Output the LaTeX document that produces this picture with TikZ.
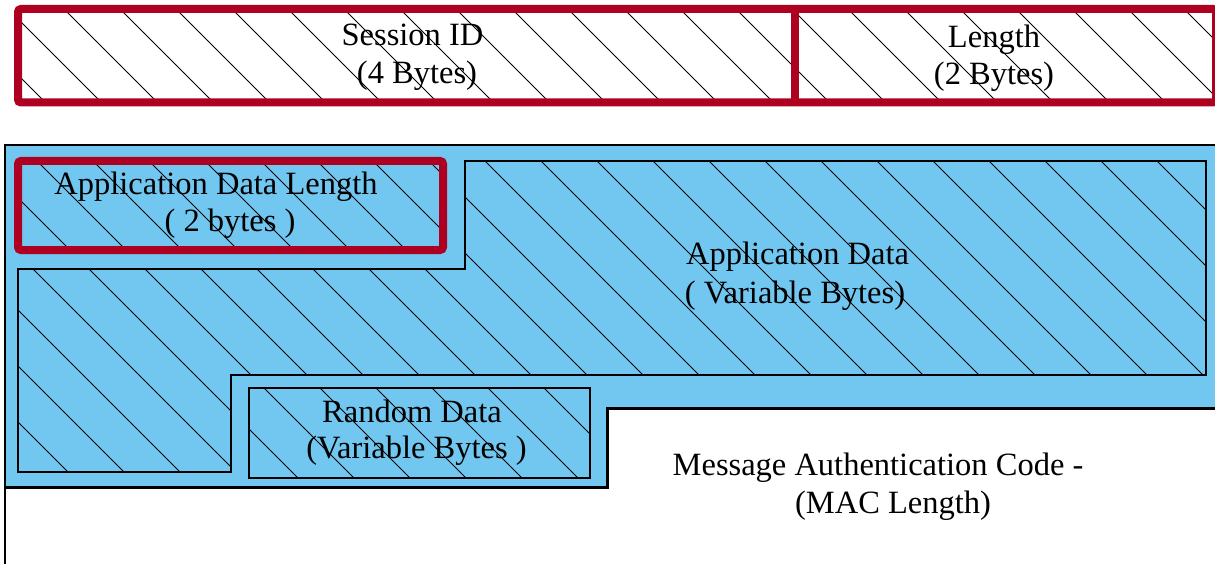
\documentclass[tikz,border=0pt]{standalone}
\usepackage{fontspec}
\setmainfont{Liberation Serif}
\definecolor{fieldred}{RGB}{174,0,33}
\definecolor{payloadblue}{RGB}{113,199,240}
\tikzset{
  redframe/.style={draw=fieldred, line width=8pt, rounded corners=3pt},
  thinframe/.style={draw=black, line width=1.6pt},
  hatchline/.style={draw=black, line width=1pt},
  txt/.style={font=\fontsize{32.5}{38}\selectfont, inner sep=0pt, anchor=base, text=black},
}
% diagonal hatching: lines x - y = phase + 56k (coordinates in pixels, y pointing down)
\newcommand{\hatchlines}[1]{%
  \foreach \k in {-11,...,23}{\draw[hatchline] ({#1+56*\k-20},-20) -- ({#1+56*\k+620},620);}}
\begin{document}
\begin{tikzpicture}[x=1pt,y=-1pt]
\useasboundingbox (0,0) rectangle (1215,564);
\begin{scope}
\clip (0,0) rectangle (1215,564);

% ---- header fields ----
\begin{scope}
  \clip (18,9) rectangle (1216,102.5);
  \hatchlines{55}
\end{scope}
\draw[redframe] (18,9) rectangle (1216,102.5);
\draw[draw=fieldred, line width=8pt] (795,9) -- (795,102.5);
\node[txt] (sid1) at (412.5,46) {Session ID};
\node[txt] (sid2) at (417,84) {(4 Bytes)};
\node[txt] (len1) at (994,48) {Length};
\node[txt] (len2) at (994,85) {(2 Bytes)};

% ---- encrypted payload ----
\fill[payloadblue] (5,145) -- (1220,145) -- (1220,408) -- (607,408)
  -- (607,487) -- (5,487) -- cycle;
\draw[line width=2.5pt] (1220,145) -- (5,145) -- (5,570);
\draw[line width=3pt] (5,487) -- (607,487) -- (607,408) -- (1220,408);

% application data
\begin{scope}
  \clip (465,161) -- (1206,161) -- (1206,375) -- (231,375) -- (231,472)
    -- (18,472) -- (18,269) -- (465,269) -- cycle;
  \hatchlines{44}
\end{scope}
\draw[thinframe] (465,161) -- (1206,161) -- (1206,375) -- (231,375) -- (231,472)
  -- (18,472) -- (18,269) -- (465,269) -- cycle;
\node[txt] (ad1) at (797.5,264) {Application Data};
\node[txt] (ad2) at (795,303) {( Variable Bytes)};

% application data length
\begin{scope}
  \clip (18,161) rectangle (443,250);
  \hatchlines{44}
\end{scope}
\draw[redframe] (18,161) rectangle (443,250);
\node[txt] (adl1) at (216,195) {Application Data Length};
\node[txt] (adl2) at (230,232) {( 2 bytes )};

% random data
\begin{scope}
  \clip (249,388) rectangle (590,478);
  \hatchlines{44}
\end{scope}
\draw[thinframe, line width=2pt] (249,388) rectangle (590,478);
\node[txt] (rd1) at (412,422) {Random Data};
\node[txt] (rd2) at (416.5,458) {(Variable Bytes )};

% message authentication code
\node[txt] (mac1) at (878,475) {Message Authentication Code -};
\node[txt] (mac2) at (893,513) {(MAC Length)};
\end{scope}
\end{tikzpicture}
\end{document}
